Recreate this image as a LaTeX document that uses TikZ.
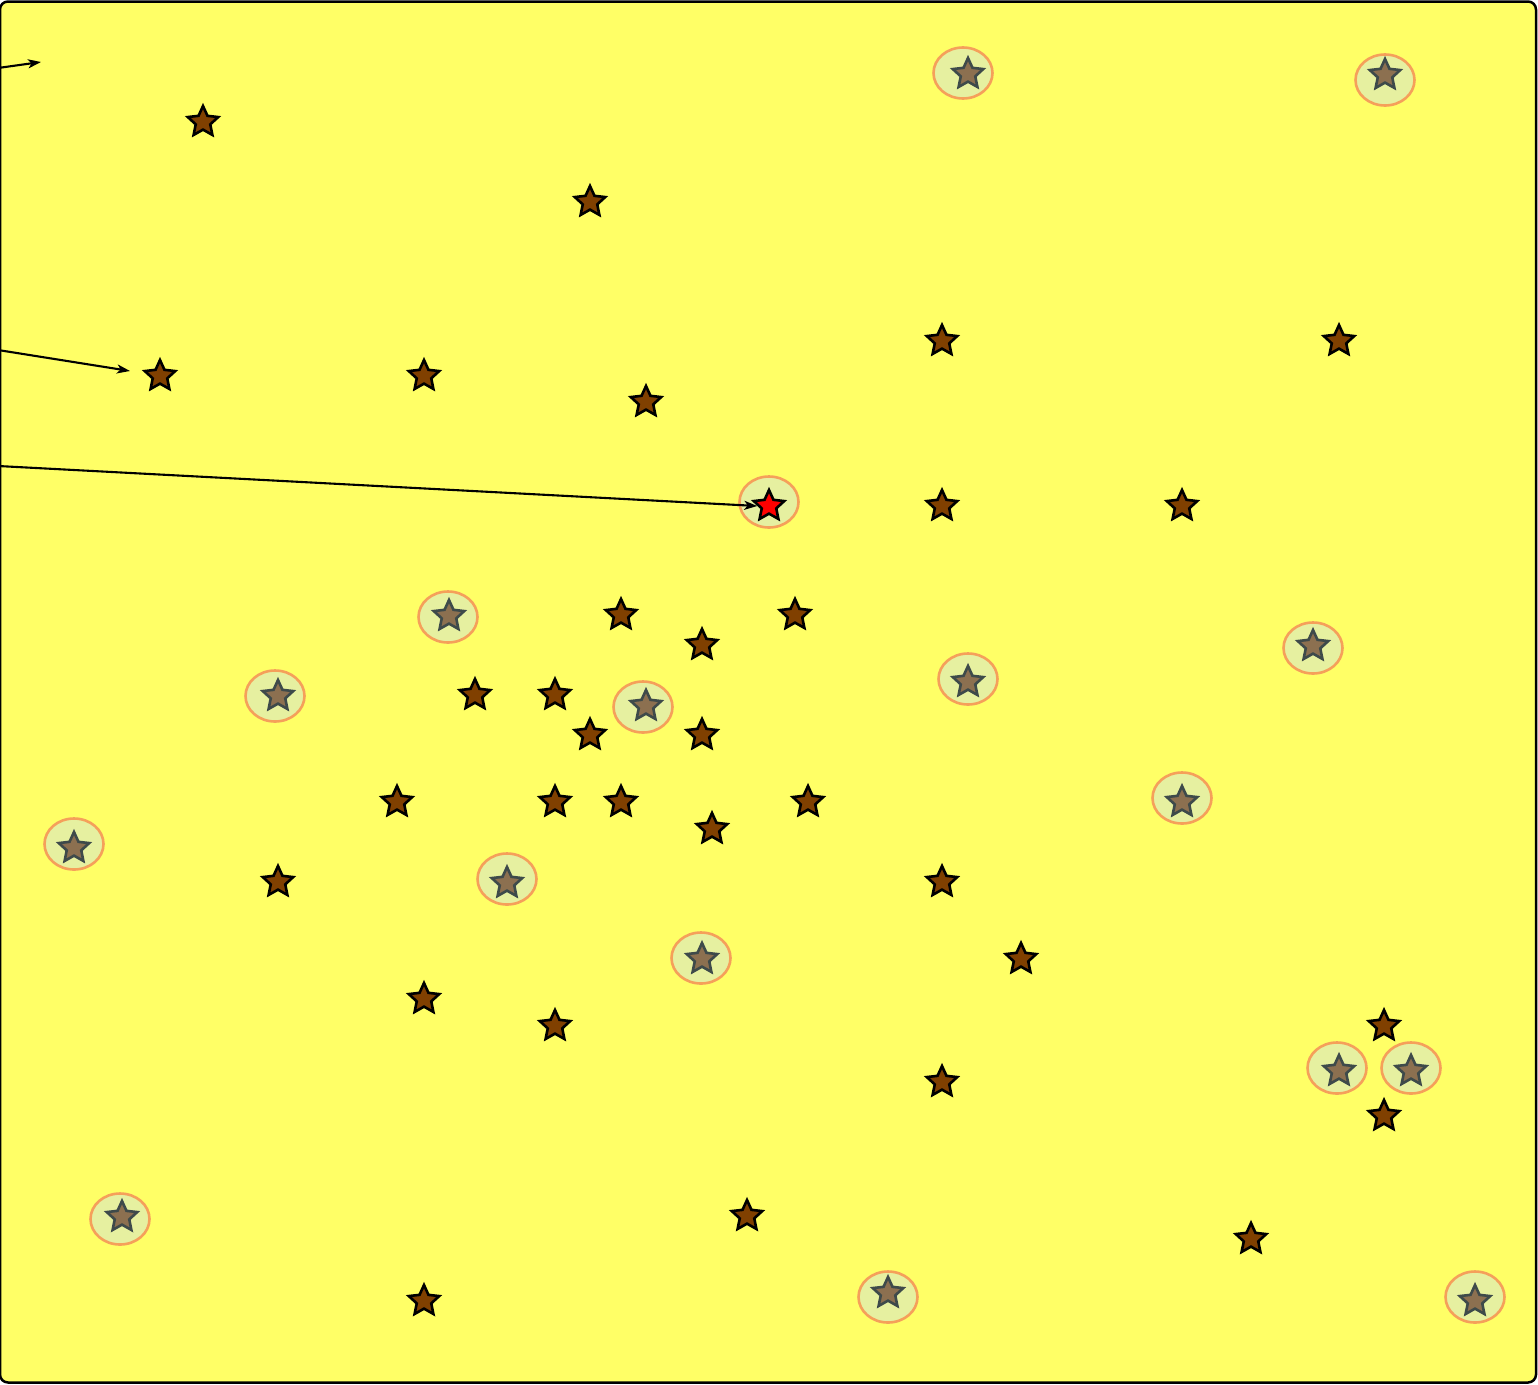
\documentclass[tikz,border=0pt]{standalone}
\usetikzlibrary{shapes.geometric,arrows.meta}
\definecolor{bgyellow}{RGB}{255,255,102}
\definecolor{starbrown}{RGB}{128,64,0}
\definecolor{ringfill}{RGB}{230,240,160}
\definecolor{ringdraw}{RGB}{245,160,90}
\definecolor{mutedstar}{RGB}{140,112,80}
\definecolor{mutededge}{RGB}{62,74,74}
\tikzset{
  starnode/.style={star, star points=5, star point ratio=2.1, minimum size=32pt, inner sep=0pt, line width=2.6pt, draw=black, fill=starbrown},
  mutednode/.style={starnode, draw=mutededge, fill=mutedstar},
  rednode/.style={starnode, fill=red},
  ring/.style={ellipse, minimum width=59pt, minimum height=51pt, inner sep=0pt, line width=2.6pt, draw=ringdraw, fill=ringfill},
  pointer/.style={line width=2.1pt, -{Stealth[length=13pt,width=9pt,inset=3.5pt]}}
}
\begin{document}
\begin{tikzpicture}[x=1pt,y=-1pt]
\useasboundingbox (0,0) rectangle (1538,1384);
\draw[fill=bgyellow, line width=2.5pt, rounded corners=8pt] (0,1.5) rectangle (1536,1382.5);
% circled stars
\foreach \ex/\ey/\sx/\sy [count=\i] in {963/73/968/74, 1385/80/1385/75, 448/617/449/616, 275/696/278/696, 643/707/646/706,
  968/679/968/682, 1313/648/1313/646, 1182/798/1182/802, 74/844/74/848, 507/879/507/883, 701/958/702/959,
  1337/1068/1339/1071, 1411/1068/1411/1071, 120/1219/122/1217, 888/1297/888/1293, 1475/1297/1475/1301}{
  \node[ring] (r\i) at (\ex,\ey) {};
  \node[mutednode] (c\i) at (\sx,\sy) {};
}
% red star
\node[ring] (rred) at (769,502) {};
\node[rednode] (red) at (769,506) {};
% plain stars
\foreach \sx/\sy [count=\i] in {203/122, 590/202, 160/376, 424/376, 646/402, 942/341, 1339/341, 942/506, 1182/506,
  621/615, 795/615, 702/645, 475/695, 555/695, 590/735, 702/735, 397/802, 555/802, 621/802, 808/802, 712/829,
  278/882, 942/882, 1021/959, 424/999, 555/1026, 1384/1026, 942/1082, 1384/1116, 747/1216, 1251/1239, 424/1301}{
  \node[starnode] (s\i) at (\sx,\sy) {};
}
% arrows
\coordinate (a1s) at (-2,68);
\coordinate (a1e) at (41,62);
\coordinate (a2s) at (-2,350);
\coordinate (a2e) at (130,371);
\coordinate (a3s) at (-2,466);
\draw[pointer] (a1s) -- (a1e);
\draw[pointer] (a2s) -- (a2e);
\draw[pointer] (a3s) -- (red.west);
\end{tikzpicture}
\end{document}
